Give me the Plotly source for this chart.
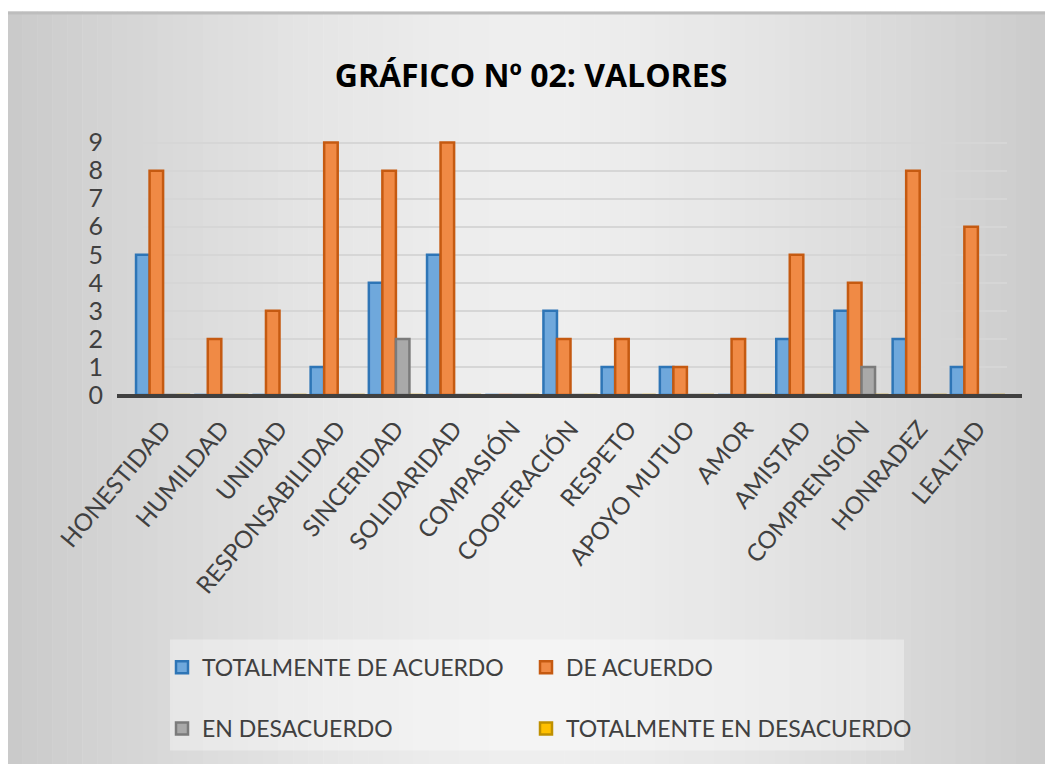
import plotly.graph_objects as go

categorias = ["HONESTIDAD", "HUMILDAD", "UNIDAD", "RESPONSABILIDAD", "SINCERIDAD",
              "SOLIDARIDAD", "COMPASIÓN", "COOPERACIÓN", "RESPETO", "APOYO MUTUO",
              "AMOR", "AMISTAD", "COMPRENSIÓN", "HONRADEZ", "LEALTAD"]
totalmente_de_acuerdo = [5, 0, 0, 1, 4, 5, 0, 3, 1, 1, 0, 2, 3, 2, 1]
de_acuerdo = [8, 2, 3, 9, 8, 9, 0, 2, 2, 1, 2, 5, 4, 8, 6]
en_desacuerdo = [0, 0, 0, 0, 2, 0, 0, 0, 0, 0, 0, 0, 1, 0, 0]
totalmente_en_desacuerdo = [0, 0, 0, 0, 0, 0, 0, 0, 0, 0, 0, 0, 0, 0, 0]
y_ticks = [0, 1, 2, 3, 4, 5, 6, 7, 8, 9]

W, H = 1053, 764
OFF = 8  # page body margin
ML = 134 - OFF
MR = W - (1007 - OFF)
BOTTOM = 395 - OFF
UNIT = 28.0
YMAX = 9.2
MB = H - BOTTOM
PH = YMAX * UNIT
MT = H - MB - PH
PW = W - ML - MR

def px_x(p):
    return (p - OFF - ML) / PW

def px_y(p):
    return (BOTTOM - (p - OFF)) / PH

FONT = "Lato, 'Noto Sans', sans-serif"

series = [
    ("TOTALMENTE DE ACUERDO", totalmente_de_acuerdo, "#6FA8DC", "#2E75B6", "legend", 162, 667),
    ("DE ACUERDO", de_acuerdo, "#F08A45", "#C55A11", "legend2", 526, 667),
    ("EN DESACUERDO", en_desacuerdo, "#A9A9A9", "#7B7B7B", "legend3", 162, 728),
    ("TOTALMENTE EN DESACUERDO", totalmente_en_desacuerdo, "#FFC000", "#BF9000", "legend4", 526, 728),
]

fig = go.Figure()
legends = {}
for name, vals, fill, edge, lg, lx, ly in series:
    fig.add_trace(go.Bar(
        x=categorias, y=vals, name=name, legend=lg, showlegend=True,
        marker=dict(color=fill, line=dict(color=edge, width=2.5)),
    ))
    legends[lg] = dict(orientation="h", x=px_x(lx), xanchor="left", y=px_y(ly), yanchor="middle",
                       bgcolor="rgba(0,0,0,0)",
                       font=dict(family=FONT, size=23, color="#404040"))

shapes = []
# background gradient (darker at edges, lighter in centre)
n = 70
x0px, x1px = 7, W + OFF
for i in range(n):
    a = x0px + (x1px - x0px) * i / n
    b = x0px + (x1px - x0px) * (i + 1) / n
    t = abs((i + 0.5) / n - 0.5) * 2
    g = int(239 - 37 * t ** 1.5)
    shapes.append(dict(type="rect", xref="paper", yref="paper",
                       x0=px_x(a), x1=px_x(b + 0.5), y0=px_y(H + OFF), y1=px_y(12),
                       fillcolor=f"rgb({g},{g},{g})", line=dict(width=0), layer="below"))
# top border line
shapes.append(dict(type="line", xref="paper", yref="paper",
                   x0=px_x(7), x1=px_x(W + OFF), y0=px_y(13.5), y1=px_y(13.5),
                   line=dict(color="#bdbdbd", width=3), layer="below"))
# legend box
shapes.append(dict(type="rect", xref="paper", yref="paper",
                   x0=px_x(170), x1=px_x(904), y0=px_y(750), y1=px_y(639),
                   fillcolor="rgba(255,255,255,0.35)", line=dict(width=0), layer="below"))
# x axis base line
shapes.append(dict(type="line", xref="paper", yref="paper",
                   x0=px_x(117), x1=px_x(1022), y0=px_y(396), y1=px_y(396),
                   line=dict(color="#404040", width=4), layer="above"))

fig.update_layout(
    width=W, height=H,
    margin=dict(l=ML, r=MR, t=MT, b=MB, autoexpand=False),
    paper_bgcolor="#ffffff",
    plot_bgcolor="rgba(0,0,0,0)",
    showlegend=True,
    barmode="group", bargap=0.07, bargroupgap=0.0,
    title=dict(text="<b>GRÁFICO Nº 02: VALORES</b>", x=(531 - OFF) / W,
               xanchor="center", y=1 - (76 - OFF) / H, yanchor="middle",
               font=dict(family="Open Sans", size=32, color="#000000")),
    font=dict(family=FONT, color="#404040"),
    xaxis=dict(tickangle=-50, tickfont=dict(family=FONT, size=24, color="#404040"),
               showgrid=False, showline=False, ticks="", automargin=False,
               ticklabelstandoff=14),
    yaxis=dict(range=[0, YMAX], tickvals=y_ticks, showgrid=True, gridcolor="#d6d6d6", gridwidth=2,
               zeroline=False, showline=False, ticks="", automargin=False,
               ticklabelstandoff=30,
               tickfont=dict(family=FONT, size=25, color="#404040")),
    shapes=shapes,
    **legends,
)

fig.write_html("out.html")
